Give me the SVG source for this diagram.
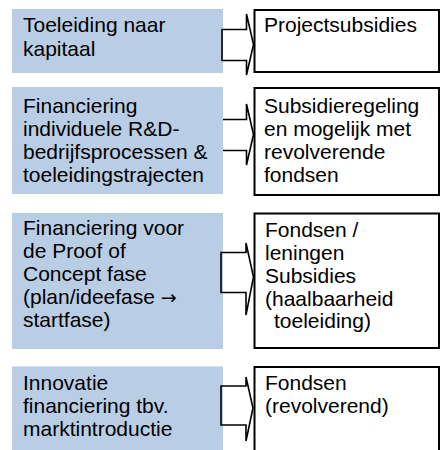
<svg xmlns="http://www.w3.org/2000/svg" width="446" height="450" viewBox="0 0 446 450">
<style>
.src rect{fill:#B9CDE5;stroke:none}
.dst rect{fill:#fff;stroke:#000;stroke-width:2}
text{font-family:"Liberation Sans",Arial,sans-serif;font-size:21px;fill:#000}
.sym{font-family:"DejaVu Sans",sans-serif;font-size:19px}
.arr path{fill:none;stroke:#000;stroke-width:1.6;stroke-linejoin:miter}
</style>
<rect width="446" height="450" fill="#fff"/>
<g id="src1" class="src"><rect x="12" y="9" width="211" height="64"/><text x="23" y="32">Toeleiding naar</text><text x="23" y="56">kapitaal</text></g>
<g id="src2" class="src"><rect x="12" y="87" width="211" height="107"/><text x="23" y="112.5">Financiering</text><text x="23" y="135.5">individuele R&amp;D-</text><text x="23" y="158.5">bedrijfsprocessen &amp;</text><text x="23" y="181.5">toeleidingstrajecten</text></g>
<g id="src3" class="src"><rect x="12" y="213" width="211" height="136"/><text x="23" y="235">Financiering voor</text><text x="23" y="258">de Proof of</text><text x="23" y="281">Concept fase</text><text x="23" y="304">(plan/ideefase <tspan class="sym">→</tspan></text><text x="23" y="327">startfase)</text></g>
<g id="src4" class="src"><rect x="12" y="366.5" width="211" height="90"/><text x="23" y="389.5">Innovatie</text><text x="23" y="412.5">financiering tbv.</text><text x="23" y="435.5">marktintroductie</text></g>
<g id="dst1" class="dst"><rect x="254.5" y="10" width="184.5" height="62"/><text x="264" y="32">Projectsubsidies</text></g>
<g id="dst2" class="dst"><rect x="254.5" y="88" width="184.5" height="107"/><text x="264" y="112.5">Subsidieregeling</text><text x="264" y="135.5">en mogelijk met</text><text x="264" y="158.5">revolverende</text><text x="264" y="181.5">fondsen</text></g>
<g id="dst3" class="dst"><rect x="254.5" y="213.5" width="184.5" height="134.5"/><text x="265" y="236.5">Fondsen /</text><text x="265" y="259.5">leningen</text><text x="265" y="282.5">Subsidies</text><text x="265" y="305.5">(haalbaarheid</text><text x="274" y="327.5">toeleiding)</text></g>
<g id="dst4" class="dst"><rect x="254.5" y="367" width="184.5" height="120"/><text x="265" y="390">Fondsen</text><text x="265" y="413">(revolverend)</text></g>
<g id="connectors" class="arr">
<path d="M222,29.5 H246.5 V14 L253.5,44.5 L246.5,75 V60.5 H222 Z"/>
<path d="M223,119.5 H246.5 V104 L253.5,134.5 L246.5,165 V150.5 H223"/>
<path d="M221,252.5 H246 V243 L253.5,277 L246,315 V292.5 H221 Z"/>
<path d="M221,386 H246 V377 L253,408 L246,441 V425 H221 Z"/>
</g>
</svg>
